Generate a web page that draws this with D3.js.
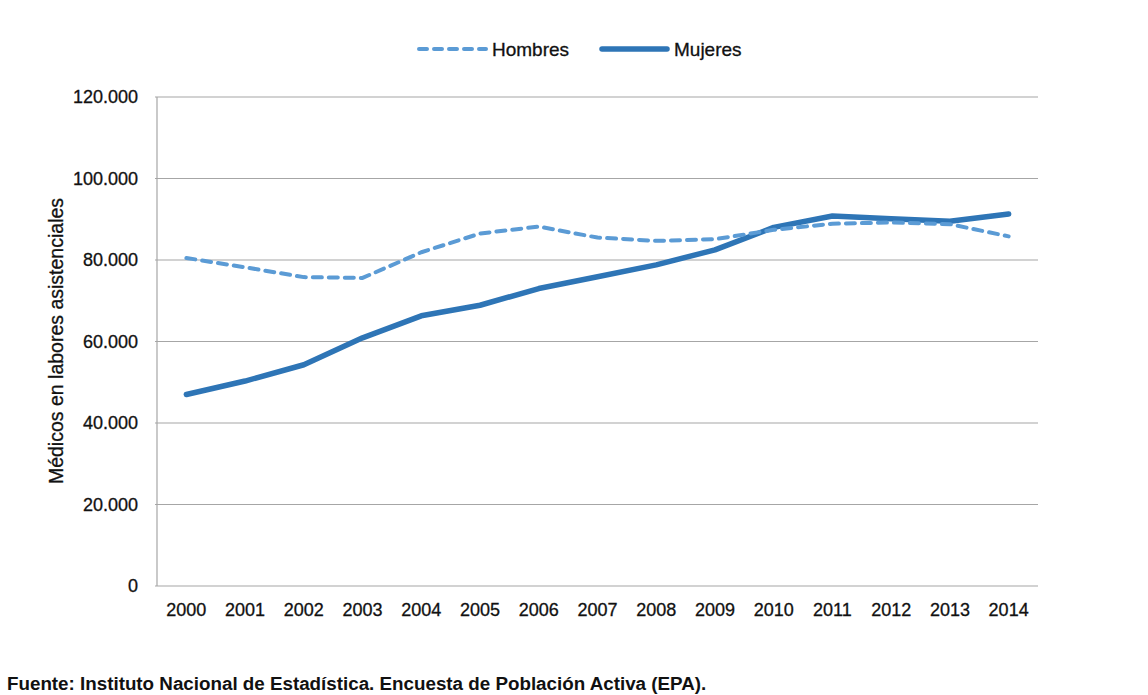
<!DOCTYPE html>
<html>
<head>
<meta charset="utf-8">
<script src="https://cdn.jsdelivr.net/npm/d3@7"></script>
<style>
  body { margin: 0; background: #fff; }
  text { font-family: "Liberation Sans", Arial, Helvetica, sans-serif; fill: #111; stroke: #111; stroke-width: 0.3px; }
</style>
</head>
<body>
<svg id="chart" width="1148" height="695"></svg>
<script>
var years = ['2000','2001','2002','2003','2004','2005','2006','2007','2008','2009','2010','2011','2012','2013','2014'];
var hombres = [80500, 78200, 75800, 75600, 81900, 86500, 88200, 85500, 84700, 85100, 87400, 88900, 89200, 88800, 85800];
var mujeres = [47000, 50300, 54300, 60900, 66300, 68900, 73000, 75900, 78800, 82500, 88000, 90800, 90100, 89500, 91300];
var yTicks = [0, 20000, 40000, 60000, 80000, 100000, 120000];

var svg = d3.select('#chart');
var mLeft = 157, mRight = 1038, mTop = 97, mBottom = 586;

var x = d3.scalePoint().domain(years).range([mLeft, mRight]).padding(0.5);
var y = d3.scaleLinear().domain([0, 120000]).range([mBottom, mTop]);

var fmt = function(d) {
  return d3.format(',')(d).replace(/,/g, '.');
};

// gridlines
svg.append('g')
  .selectAll('line')
  .data(yTicks)
  .enter()
  .append('line')
  .attr('x1', mLeft - 2)
  .attr('x2', mRight)
  .attr('y1', d => y(d))
  .attr('y2', d => y(d))
  .attr('stroke', '#a6a6a6')
  .attr('stroke-width', 1.2);

// left axis line
svg.append('line')
  .attr('x1', mLeft).attr('x2', mLeft)
  .attr('y1', mTop).attr('y2', mBottom)
  .attr('stroke', '#a6a6a6')
  .attr('stroke-width', 1.2);

// y tick labels
svg.append('g')
  .selectAll('text')
  .data(yTicks)
  .enter()
  .append('text')
  .attr('x', 138)
  .attr('y', d => y(d))
  .attr('dy', '0.36em')
  .attr('text-anchor', 'end')
  .style('font-size', '18px')
  .text(fmt);

// x tick labels
svg.append('g')
  .selectAll('text')
  .data(years)
  .enter()
  .append('text')
  .attr('x', d => x(d))
  .attr('y', 616)
  .attr('text-anchor', 'middle')
  .style('font-size', '18px')
  .text(d => d);

// y axis title
svg.append('text')
  .attr('transform', 'translate(63,341) rotate(-90)')
  .attr('text-anchor', 'middle')
  .style('font-size', '19.5px')
  .text('Médicos en labores asistenciales');

var line = d3.line()
  .x((d, i) => x(years[i]))
  .y(d => y(d));

svg.append('path')
  .datum(mujeres)
  .attr('d', line)
  .attr('fill', 'none')
  .attr('stroke', '#2e75b6')
  .attr('stroke-width', 5.5)
  .attr('stroke-linecap', 'round')
  .attr('stroke-linejoin', 'round');

svg.append('path')
  .datum(hombres)
  .attr('d', line)
  .attr('fill', 'none')
  .attr('stroke', '#5b9bd5')
  .attr('stroke-width', 4)
  .attr('stroke-dasharray', '9,7')
  .attr('stroke-linecap', 'round')
  .attr('stroke-linejoin', 'round');

// legend
var legend = svg.append('g');
legend.append('line')
  .attr('x1', 419).attr('x2', 486)
  .attr('y1', 49).attr('y2', 49)
  .attr('stroke', '#5b9bd5')
  .attr('stroke-width', 4)
  .attr('stroke-dasharray', '8,7')
  .attr('stroke-linecap', 'round');
legend.append('text')
  .attr('x', 492).attr('y', 49).attr('dy', '0.36em')
  .style('font-size', '19px')
  .text('Hombres');
legend.append('line')
  .attr('x1', 602).attr('x2', 667)
  .attr('y1', 49).attr('y2', 49)
  .attr('stroke', '#2e75b6')
  .attr('stroke-width', 5.5)
  .attr('stroke-linecap', 'round');
legend.append('text')
  .attr('x', 674).attr('y', 49).attr('dy', '0.36em')
  .style('font-size', '19px')
  .text('Mujeres');

// source note
svg.append('text')
  .attr('x', 7)
  .attr('y', 690)
  .style('font-size', '18.8px')
  .style('font-weight', 'bold')
  .style('stroke-width', '0')
  .text('Fuente: Instituto Nacional de Estadística. Encuesta de Población Activa (EPA).');
</script>
</body>
</html>
